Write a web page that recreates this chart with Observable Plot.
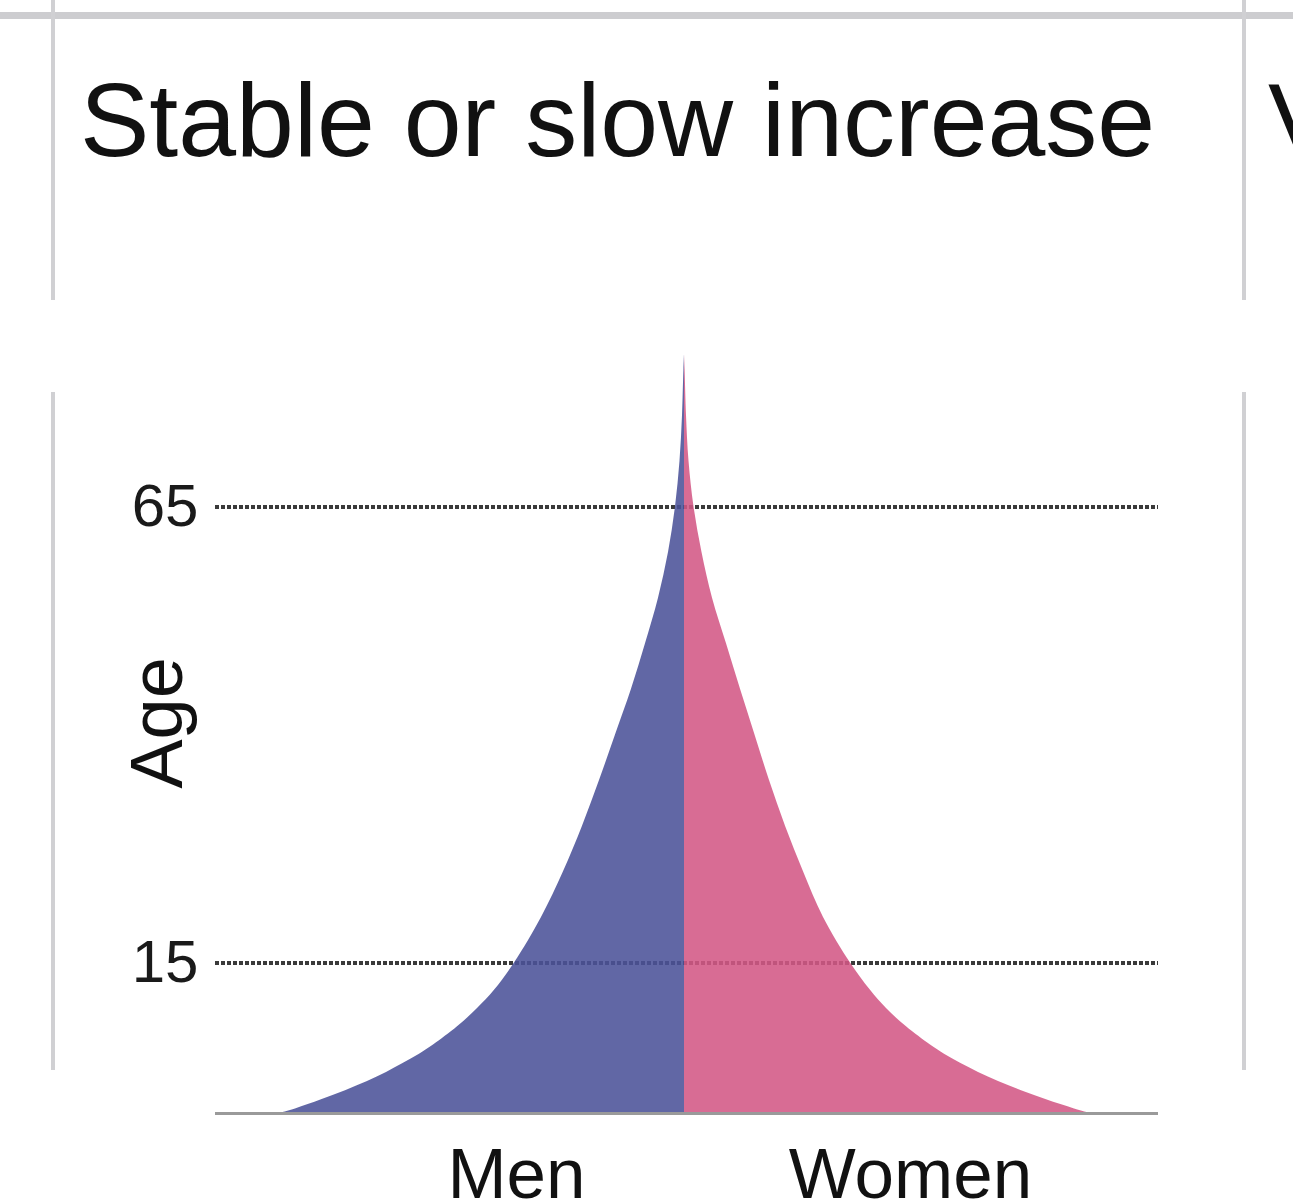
<!DOCTYPE html>
<html>
<head>
<meta charset="utf-8">
<script src="https://cdn.jsdelivr.net/npm/d3@7"></script>
<script src="https://cdn.jsdelivr.net/npm/@observablehq/plot@0.6"></script>
<style>
  html, body { margin: 0; padding: 0; background: #fff; }
  #wrap { position: relative; width: 1293px; height: 1200px; overflow: hidden; background: #fff;
          font-family: "Liberation Sans", Arial, Helvetica, sans-serif; }
  .title { position: absolute; top: 68px; font-size: 104px; line-height: 1; color: #111; white-space: nowrap; }
  .hline { position: absolute; left: 0; width: 1293px; top: 12px; height: 7px; background: #cdcdd0; }
  .vline { position: absolute; width: 4px; background: #d0d0d3; }
  #chart { position: absolute; left: 0; top: 300px; }
</style>
</head>
<body>
<div id="wrap">
  <div class="hline"></div>
  <div class="title" style="left:80px">Stable or slow increase</div>
  <div class="title" style="left:1268px">Very rapid increase</div>
  <div id="chart"></div>
  <div class="vline" style="left:51px; top:0; height:300px"></div>
  <div class="vline" style="left:51px; top:392px; height:678px"></div>
  <div class="vline" style="left:1242px; top:0; height:300px"></div>
  <div class="vline" style="left:1242px; top:392px; height:678px"></div>
</div>
<script>
// Age (years) and half-widths of the pyramid (population, arbitrary units)
const ages  = [-1.5, -1, 0, 1, 2, 3, 4, 5, 6, 8, 10, 12, 15, 20, 25, 30, 35, 40, 45, 50, 55, 60, 65, 70, 75, 80, 81.7];
const men   = [405, 389, 363, 339, 317, 298, 281, 265, 251, 227, 207, 190, 170, 143, 121, 102, 85, 69, 53, 39, 26, 16, 9, 4.5, 2, 0.6, 0];
const women = [406, 390, 362, 337, 314, 294, 276, 260, 246, 222, 202, 186, 166, 139, 119, 101, 85, 70.5, 56, 42, 28, 17.5, 9.5, 4.5, 2, 0.6, 0];
const ageTicks = [15, 65];
const sexLabels = ["Men", "Women"];
const sexLabelPos = [-168, 226];

const data = ages.map((a, i) => ({age: a, men: men[i], women: women[i]}));

const chart = Plot.plot({
  width: 1293,
  height: 900,
  marginLeft: 215,
  marginRight: 135,
  marginTop: 24,
  marginBottom: 87,
  style: {fontFamily: "'Liberation Sans', Arial, Helvetica, sans-serif", color: "#111", background: "transparent"},
  x: {domain: [-469, 474], axis: null},
  y: {domain: [-1.5, 85], axis: null},
  marks: [
    Plot.ruleY(ageTicks, {stroke: "#3a3a3a", strokeWidth: 4, strokeDasharray: "4,2"}),
    Plot.areaX(data, {y: "age", x1: 0, x2: d => -d.men, fill: "#4b5299", fillOpacity: 0.88, curve: "catmull-rom"}),
    Plot.areaX(data, {y: "age", x1: 0, x2: d => d.women, fill: "#d35885", fillOpacity: 0.88, curve: "catmull-rom"}),
    Plot.ruleY([-1.5], {stroke: "#9a9a9a", strokeWidth: 3}),
    Plot.axisY(ageTicks, {tickSize: 0, tickPadding: 17, fontSize: 60, label: null, fill: "#1a1a1a"}),
    Plot.axisX(sexLabelPos, {tickSize: 0, tickPadding: 34, fontSize: 71, label: null,
      tickFormat: d => sexLabels[sexLabelPos.indexOf(d)]}),
    Plot.text(["Age"], {frameAnchor: "left", textAnchor: "middle", dx: -57, dy: 4, rotate: -90, fontSize: 74, fill: "#111"})
  ]
});
document.getElementById("chart").appendChild(chart);
</script>
</body>
</html>
